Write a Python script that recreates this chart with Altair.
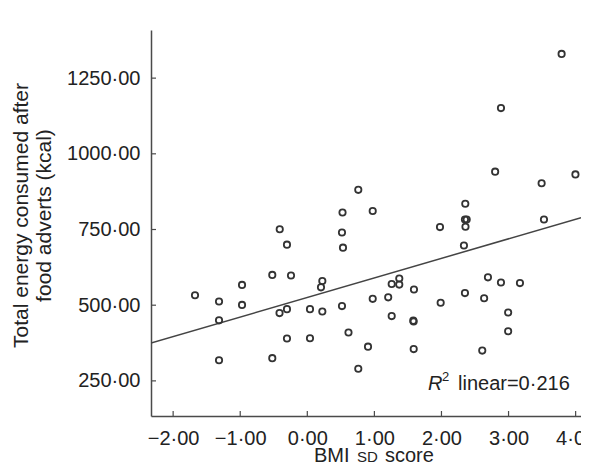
import altair as alt
import pandas as pd

# BMI SD score (x) and total energy consumed (kcal, y)
bmi_sd = [-1.674, -1.316, -1.316, -1.316, -0.973, -0.973, -0.522, -0.522, -0.411, -0.414,
          -0.303, -0.303, -0.303, -0.243, 0.040, 0.040, 0.204, 0.224, 0.224, 0.525,
          0.517, 0.532, 0.517, 0.614, 0.760, 0.905, 0.975, 0.975, 1.206, 1.258,
          1.258, 1.371, 1.371, 1.590, 1.580, 1.585, 1.586, 1.978, 1.988, 2.355,
          2.350, 2.376, 2.358, 2.335, 2.350, 2.693, 2.636, 2.608, 2.887, 2.994,
          2.994, 3.170, 3.528, 3.791, 2.887, 2.800, 3.997, 3.493, 0.760]
energy = [533, 512, 450, 318, 567, 501, 600, 325, 751, 474,
          700, 487, 390, 598, 487, 391, 559, 580, 479, 806,
          740, 690, 497, 410, 290, 363, 811, 521, 526, 570,
          464, 588, 568, 552, 449, 446, 355, 758, 508, 835,
          783, 783, 759, 697, 540, 592, 523, 350, 575, 476,
          414, 573, 783, 1330, 1151, 941, 932, 903, 881]

x_ticks = [-2, -1, 0, 1, 2, 3, 4]
y_ticks = [250, 500, 750, 1000, 1250]
x_domain = [-2.33, 4.08]
y_domain = [134, 1409]
y_title = ["Total energy consumed after", "food adverts (kcal)"]
x_title_parts = ["BMI", "SD", "score"]   # "SD" is set in small capitals
r2_text = "linear=0·216"

df = pd.DataFrame({"bmi": bmi_sd, "kcal": energy})
W, H = 430, 386
FONT = "Liberation Sans"
INK = "#333333"
TXT = "#222222"

xs = alt.Scale(domain=x_domain, nice=False, zero=False)
ys = alt.Scale(domain=y_domain, nice=False, zero=False)
label_expr = "replace(format(datum.value, '.2f'), '.', '·')"

x_axis = alt.Axis(values=x_ticks, labelExpr=label_expr, ticks=False, grid=False,
                  domainColor="#4a4a4a", domainWidth=1.5, labelFontSize=20, labelFont=FONT,
                  labelColor=TXT, labelPadding=12, labelFlush=False, labelOverlap=False,
                  labelBound=False, title=None)
y_axis = alt.Axis(values=y_ticks, labelExpr=label_expr, ticks=False, grid=False,
                  domainColor="#4a4a4a", domainWidth=1.5, labelFontSize=20, labelFont=FONT,
                  labelColor=TXT, labelPadding=11, labelOverlap=False,
                  title=y_title, titleFontSize=21, titleFont=FONT, titleFontWeight="normal",
                  titleColor=TXT, titleX=-141, titleY=185, titleAngle=270,
                  titleBaseline="top", titleAlign="center", titleLineHeight=23)

X = alt.X("bmi:Q", scale=xs, axis=x_axis)
Y = alt.Y("kcal:Q", scale=ys, axis=y_axis)

points = alt.Chart(df).mark_point(shape="circle", filled=False, size=40, strokeWidth=1.8,
                                  color=INK, opacity=1).encode(x=X, y=Y)

fit = alt.Chart(df).transform_regression("bmi", "kcal", extent=x_domain).mark_line(
    color="#444", strokeWidth=1.5, clip=True).encode(x=X, y=Y)

xt = alt.Chart(pd.DataFrame({"bmi": x_ticks})).mark_rule(color="#4a4a4a", strokeWidth=1.2).encode(
    x=X, y=alt.value(H), y2=alt.value(H - 5))
yt = alt.Chart(pd.DataFrame({"kcal": y_ticks})).mark_rule(color="#4a4a4a", strokeWidth=1.2).encode(
    y=Y, x=alt.value(0), x2=alt.value(5))

one = pd.DataFrame({"a": [0]})


def label(text, x, y, size=20, style="normal"):
    return alt.Chart(one).mark_text(font=FONT, fontSize=size, fontStyle=style, align="left",
                                    baseline="alphabetic", color=TXT).encode(
        x=alt.value(x), y=alt.value(y), text=alt.value(text))


r_txt = label("R", 277, 360, style="italic")
sup_txt = label("2", 291, 351, size=13)
lin_txt = label(r2_text, 307, 360)

xt1 = label(x_title_parts[0], 163, 432)
xt2 = label(x_title_parts[1], 206, 432, size=15)
xt3 = label(x_title_parts[2], 234, 432)

chart = alt.layer(fit, points, xt, yt, r_txt, sup_txt, lin_txt, xt1, xt2, xt3).properties(
    width=W, height=H,
    autosize=alt.AutoSizeParams(type="none"),
    padding={"left": 143, "top": 22, "right": 0, "bottom": 57},
    background="white",
).configure_view(stroke=None)

chart.save("out.html", embed_options={"renderer": "svg", "actions": False})
